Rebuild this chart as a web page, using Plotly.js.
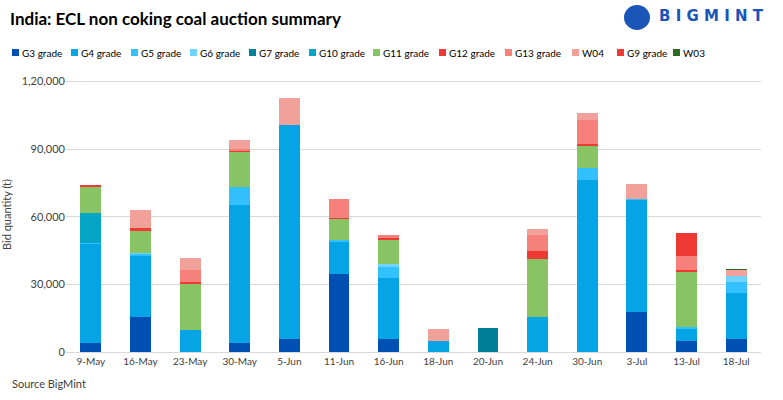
<!DOCTYPE html>
<html>
<head>
<meta charset="utf-8">
<script src="https://cdn.plot.ly/plotly-3.0.1.min.js"></script>
<style>
  body { margin: 0; background: #fff; }
  #chart { width: 783px; height: 400px; }
</style>
</head>
<body>
<div id="chart"></div>
<script>
var dates = ['9-May', '16-May', '23-May', '30-May', '5-Jun', '11-Jun', '16-Jun',
             '18-Jun', '20-Jun', '24-Jun', '30-Jun', '3-Jul', '13-Jul', '18-Jul'];

var seriesNames = ['G3 grade', 'G4 grade', 'G5 grade', 'G6 grade', 'G7 grade', 'G10 grade',
                   'G11 grade', 'G12 grade', 'G13 grade', 'W04', 'G9 grade', 'W03'];

var seriesColors = ['#0050B4', '#05A5E5', '#33C0FF', '#70D4FF', '#007F99', '#05A5C5',
                    '#88C464', '#EF3935', '#F6807A', '#F1A09A', '#EE3833', '#2E6B1E'];

var g3  = [4000, 15400, 0, 4000, 5800, 34600, 5800, 0, 0, 0, 0, 17600, 4900, 5800];
var g4  = [44000, 27000, 9700, 61100, 94700, 14400, 27000, 4900, 0, 15400, 76100, 49700, 5200, 20500];
var g5  = [400, 900, 0, 7900, 0, 900, 4800, 0, 0, 0, 5700, 400, 900, 4800];
var g6  = [0, 700, 0, 0, 0, 0, 1300, 0, 0, 0, 0, 0, 0, 2600];
var g7  = [0, 0, 0, 0, 0, 0, 0, 0, 10600, 0, 0, 0, 0, 0];
var g10 = [13100, 0, 0, 0, 0, 0, 0, 0, 0, 0, 0, 0, 0, 0];
var g11 = [11800, 9700, 20500, 15700, 0, 9200, 10900, 0, 0, 25700, 9600, 0, 24400, 0];
var g12 = [900, 1300, 900, 400, 0, 400, 900, 0, 0, 3500, 900, 0, 900, 0];
var g13 = [0, 0, 5200, 900, 0, 8300, 1300, 0, 0, 7400, 10500, 0, 6100, 0];
var w04 = [0, 7800, 5200, 3900, 12200, 0, 0, 5200, 0, 2600, 3100, 7000, 0, 2600];
var g9  = [0, 0, 0, 0, 0, 0, 0, 0, 0, 0, 0, 0, 10500, 0];
var w03 = [0, 0, 0, 0, 0, 0, 0, 0, 0, 0, 0, 0, 0, 400];

var yTickVals = [0, 30000, 60000, 90000, 120000];
var yTickText = ['0', '30,000', '60,000', '90,000', '1,20,000'];

var allSeries = [g3, g4, g5, g6, g7, g10, g11, g12, g13, w04, g9, w03];

var traces = allSeries.map(function(vals, i) {
    return {
        type: 'bar',
        name: seriesNames[i],
        x: dates,
        y: vals,
        marker: { color: seriesColors[i] },
        hoverinfo: 'x+y+name'
    };
});

var font = 'Lato, "Open Sans", sans-serif';
var W = 783, H = 400;
var M = { l: 66, r: 22, t: 77, b: 48 };
function px(x) { return (x - M.l) / (W - M.l - M.r); }
function py(y) { return (H - M.b - y) / (H - M.t - M.b); }

// hand-made legend (one row, like the original)
var legendLeft = [12, 71, 131, 190, 249, 309, 373, 439, 505, 572, 617, 673];
var shapes = [];
var annotations = [];
seriesNames.forEach(function(name, i) {
    shapes.push({
        type: 'rect', xref: 'paper', yref: 'paper',
        x0: px(legendLeft[i]), x1: px(legendLeft[i] + 7),
        y0: py(56), y1: py(49),
        fillcolor: seriesColors[i], line: { width: 0 }
    });
    annotations.push({
        text: name, xref: 'paper', yref: 'paper',
        x: px(legendLeft[i] + 8), y: py(52.5), xanchor: 'left', yanchor: 'middle',
        showarrow: false, font: { family: font, size: 10, color: '#000' }
    });
});

// logo
shapes.push({
    type: 'circle', xref: 'paper', yref: 'paper',
    x0: px(624), x1: px(650), y0: py(30), y1: py(5),
    fillcolor: '#1A55B8', line: { width: 0 }
});
annotations.push({
    text: '<b>B I G M I N T</b>', xref: 'paper', yref: 'paper', x: px(766), y: py(16),
    xanchor: 'right', yanchor: 'middle', showarrow: false,
    font: { family: 'DejaVu Sans, sans-serif', size: 15, color: '#1A55B8' }
});
annotations.push({
    text: 'Source BigMint', xref: 'paper', yref: 'paper', x: px(10), y: py(383),
    xanchor: 'left', yanchor: 'middle', showarrow: false,
    font: { family: font, size: 11, color: '#404040' }
});

var layout = {
    width: W,
    height: H,
    barmode: 'stack',
    bargap: 0.58,
    paper_bgcolor: '#fff',
    plot_bgcolor: '#fff',
    font: { family: font, size: 11, color: '#404040' },
    margin: M,
    title: {
        text: '<b>India: ECL non coking coal auction summary</b>',
        x: 10 / W, xanchor: 'left', y: 1 - 19 / H, yanchor: 'middle',
        font: { family: font, size: 17, color: '#000' }
    },
    showlegend: false,
    xaxis: {
        type: 'category',
        showgrid: false,
        showline: true,
        linecolor: '#d9d9d9',
        ticks: '',
        tickfont: { family: font, size: 10, color: '#404040' }
    },
    yaxis: {
        range: [0, 122000],
        tickvals: yTickVals,
        ticktext: yTickText,
        showgrid: true,
        gridcolor: '#d9d9d9',
        zeroline: false,
        tickfont: { family: font, size: 11, color: '#404040' },
        title: { text: 'Bid quantity (t)', font: { family: font, size: 11, color: '#404040' }, standoff: 8 }
    },
    annotations: annotations,
    shapes: shapes
};

Plotly.newPlot('chart', traces, layout, { displayModeBar: false, staticPlot: true });
</script>
</body>
</html>
